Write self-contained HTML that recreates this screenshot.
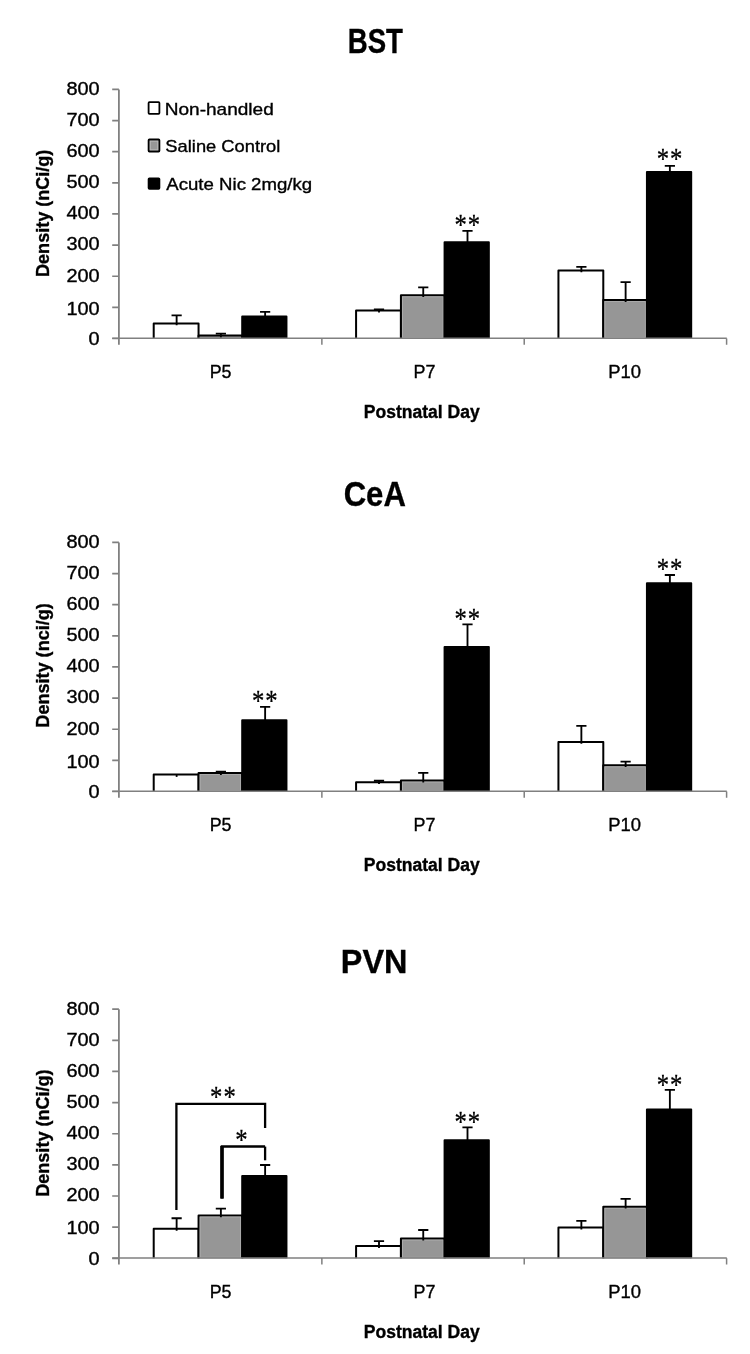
<!DOCTYPE html>
<html><head><meta charset="utf-8"><title>Density charts</title>
<style>
html,body{margin:0;padding:0;background:#fff;}
body{width:750px;height:1354px;overflow:hidden;}
svg{display:block;font-family:"Liberation Sans", Arial, sans-serif;}
text{stroke:#000;stroke-width:0.35px;}
text.b{stroke-width:0.2px;}
text.s{stroke-width:0.3px;}
</style></head>
<body>
<svg width="750" height="1354" viewBox="0 0 750 1354">
<rect width="750" height="1354" fill="#fff"/>
<text x="347.77" y="52.60" font-size="34.20" font-weight="bold" textLength="55.21" lengthAdjust="spacingAndGlyphs">BST</text>
<text x="88.63" y="345.40" font-size="17.71" textLength="11.08" lengthAdjust="spacingAndGlyphs">0</text>
<text x="66.46" y="314.50" font-size="17.71" textLength="33.25" lengthAdjust="spacingAndGlyphs">100</text>
<text x="66.46" y="281.50" font-size="17.71" textLength="33.25" lengthAdjust="spacingAndGlyphs">200</text>
<text x="66.46" y="250.30" font-size="17.71" textLength="33.25" lengthAdjust="spacingAndGlyphs">300</text>
<text x="66.46" y="219.20" font-size="17.71" textLength="33.25" lengthAdjust="spacingAndGlyphs">400</text>
<text x="66.46" y="188.20" font-size="17.71" textLength="33.25" lengthAdjust="spacingAndGlyphs">500</text>
<text x="66.46" y="157.20" font-size="17.71" textLength="33.25" lengthAdjust="spacingAndGlyphs">600</text>
<text x="66.46" y="126.00" font-size="17.71" textLength="33.25" lengthAdjust="spacingAndGlyphs">700</text>
<text x="66.46" y="94.80" font-size="17.71" textLength="33.25" lengthAdjust="spacingAndGlyphs">800</text>
<text transform="translate(48.80,0) rotate(-90)" x="-276.96" y="0" font-size="19.28" font-weight="bold" textLength="127.29" lengthAdjust="spacingAndGlyphs">Density (nCi/g)</text>
<text x="209.67" y="377.90" font-size="17.83" font-weight="normal" textLength="21.80" lengthAdjust="spacingAndGlyphs">P5</text>
<text x="413.57" y="377.90" font-size="17.83" font-weight="normal" textLength="21.88" lengthAdjust="spacingAndGlyphs">P7</text>
<text x="608.23" y="377.90" font-size="17.83" font-weight="normal" textLength="32.80" lengthAdjust="spacingAndGlyphs">P10</text>
<text x="363.77" y="418.40" font-size="17.68" font-weight="bold" textLength="115.88" lengthAdjust="spacingAndGlyphs">Postnatal Day</text>
<rect x="153.71" y="323.40" width="44.85" height="15.10" fill="#ffffff"/>
<path d="M153.71,338.50V323.40H198.56V338.50" fill="none" stroke="#000" stroke-width="2" stroke-linejoin="round"/>
<rect x="198.56" y="335.60" width="43.65" height="2.90" fill="#969696"/>
<path d="M198.56,338.50V335.60H242.21V338.50" fill="none" stroke="#000" stroke-width="2" stroke-linejoin="round"/>
<rect x="242.21" y="316.50" width="44.25" height="22.00" fill="#000000"/>
<path d="M242.21,338.50V316.50H286.46V338.50" fill="none" stroke="#000" stroke-width="2" stroke-linejoin="round"/>
<rect x="356.08" y="310.60" width="44.85" height="27.90" fill="#ffffff"/>
<path d="M356.08,338.50V310.60H400.93V338.50" fill="none" stroke="#000" stroke-width="2" stroke-linejoin="round"/>
<rect x="400.93" y="295.20" width="43.65" height="43.30" fill="#969696"/>
<path d="M400.93,338.50V295.20H444.58V338.50" fill="none" stroke="#000" stroke-width="2" stroke-linejoin="round"/>
<rect x="402.53" y="296.80" width="40.45" height="40.70" fill="none" stroke="#adadad" stroke-width="0.9"/>
<rect x="444.58" y="242.20" width="44.25" height="96.30" fill="#000000"/>
<path d="M444.58,338.50V242.20H488.83V338.50" fill="none" stroke="#000" stroke-width="2" stroke-linejoin="round"/>
<rect x="558.44" y="270.40" width="44.85" height="68.10" fill="#ffffff"/>
<path d="M558.44,338.50V270.40H603.29V338.50" fill="none" stroke="#000" stroke-width="2" stroke-linejoin="round"/>
<rect x="603.29" y="300.00" width="43.65" height="38.50" fill="#969696"/>
<path d="M603.29,338.50V300.00H646.94V338.50" fill="none" stroke="#000" stroke-width="2" stroke-linejoin="round"/>
<rect x="604.89" y="301.60" width="40.45" height="35.90" fill="none" stroke="#adadad" stroke-width="0.9"/>
<rect x="646.94" y="172.00" width="44.25" height="166.50" fill="#000000"/>
<path d="M646.94,338.50V172.00H691.19V338.50" fill="none" stroke="#000" stroke-width="2" stroke-linejoin="round"/>
<path d="M176.63,325.30V315.40M171.53,315.40H181.73" stroke="#000" stroke-width="1.85" fill="none"/>
<path d="M220.88,337.50V333.60M215.78,333.60H225.98" stroke="#000" stroke-width="1.85" fill="none"/>
<path d="M265.13,316.50V311.90M260.03,311.90H270.23" stroke="#000" stroke-width="1.85" fill="none"/>
<path d="M379.00,312.50V309.30M373.90,309.30H384.10" stroke="#000" stroke-width="1.85" fill="none"/>
<path d="M423.25,297.10V287.30M418.15,287.30H428.35" stroke="#000" stroke-width="1.85" fill="none"/>
<path d="M467.50,242.20V230.90M462.40,230.90H472.60" stroke="#000" stroke-width="1.85" fill="none"/>
<path d="M581.37,272.30V266.90M576.27,266.90H586.47" stroke="#000" stroke-width="1.85" fill="none"/>
<path d="M625.62,301.90V282.10M620.52,282.10H630.72" stroke="#000" stroke-width="1.85" fill="none"/>
<path d="M669.87,172.00V165.90M664.77,165.90H674.97" stroke="#000" stroke-width="1.85" fill="none"/>
<path d="M118.9,89.40V344.80" stroke="#808080" stroke-width="1.8" fill="none"/>
<path d="M112.2,338.50H118.9M112.2,307.36H118.9M112.2,276.23H118.9M112.2,245.09H118.9M112.2,213.95H118.9M112.2,182.81H118.9M112.2,151.68H118.9M112.2,120.54H118.9M112.2,89.40H118.9" stroke="#808080" stroke-width="1.7" fill="none"/>
<path d="M112.2,338.30H726.80M321.87,338.50V344.80M524.23,338.50V344.80M726.60,338.50V344.80" stroke="#808080" stroke-width="1.5" fill="none" stroke-linejoin="round"/>
<text class="s" transform="translate(454.39,234.41) scale(0.85,1)" font-family='"Liberation Serif", "Times New Roman", serif' font-size="29.00" letter-spacing="1.15">**</text>
<text class="s" transform="translate(656.75,168.41) scale(0.85,1)" font-family='"Liberation Serif", "Times New Roman", serif' font-size="29.00" letter-spacing="1.15">**</text>
<rect x="148.6" y="102.10" width="10.8" height="11.80" fill="#ffffff" stroke="#000" stroke-width="1.8" rx="0.8"/>
<text x="164.78" y="114.60" font-size="16.81" font-weight="normal" textLength="108.99" lengthAdjust="spacingAndGlyphs">Non-handled</text>
<rect x="148.6" y="139.50" width="10.8" height="12.00" fill="#969696" stroke="#000" stroke-width="1.8" rx="0.8"/>
<rect x="150.3" y="141.20" width="7.4" height="8.60" fill="none" stroke="#b8b8b8" stroke-width="0.9"/>
<text x="165.39" y="152.20" font-size="16.81" font-weight="normal" textLength="114.94" lengthAdjust="spacingAndGlyphs">Saline Control</text>
<rect x="148.6" y="178.30" width="10.8" height="10.60" fill="#000000" stroke="#000" stroke-width="1.8" rx="0.8"/>
<text x="166.30" y="189.60" font-size="16.96" font-weight="normal" textLength="145.84" lengthAdjust="spacingAndGlyphs">Acute Nic 2mg/kg</text>
<text x="343.66" y="506.00" font-size="34.35" font-weight="bold" textLength="62.20" lengthAdjust="spacingAndGlyphs">CeA</text>
<text x="88.63" y="798.40" font-size="17.71" textLength="11.08" lengthAdjust="spacingAndGlyphs">0</text>
<text x="66.46" y="767.50" font-size="17.71" textLength="33.25" lengthAdjust="spacingAndGlyphs">100</text>
<text x="66.46" y="734.50" font-size="17.71" textLength="33.25" lengthAdjust="spacingAndGlyphs">200</text>
<text x="66.46" y="703.30" font-size="17.71" textLength="33.25" lengthAdjust="spacingAndGlyphs">300</text>
<text x="66.46" y="672.20" font-size="17.71" textLength="33.25" lengthAdjust="spacingAndGlyphs">400</text>
<text x="66.46" y="641.20" font-size="17.71" textLength="33.25" lengthAdjust="spacingAndGlyphs">500</text>
<text x="66.46" y="610.20" font-size="17.71" textLength="33.25" lengthAdjust="spacingAndGlyphs">600</text>
<text x="66.46" y="579.00" font-size="17.71" textLength="33.25" lengthAdjust="spacingAndGlyphs">700</text>
<text x="66.46" y="547.80" font-size="17.71" textLength="33.25" lengthAdjust="spacingAndGlyphs">800</text>
<text transform="translate(48.80,0) rotate(-90)" x="-727.66" y="0" font-size="19.28" font-weight="bold" textLength="124.46" lengthAdjust="spacingAndGlyphs">Density (nci/g)</text>
<text x="209.67" y="830.90" font-size="17.83" font-weight="normal" textLength="21.80" lengthAdjust="spacingAndGlyphs">P5</text>
<text x="413.57" y="830.90" font-size="17.83" font-weight="normal" textLength="21.88" lengthAdjust="spacingAndGlyphs">P7</text>
<text x="608.23" y="830.90" font-size="17.83" font-weight="normal" textLength="32.80" lengthAdjust="spacingAndGlyphs">P10</text>
<text x="363.77" y="871.40" font-size="17.68" font-weight="bold" textLength="115.88" lengthAdjust="spacingAndGlyphs">Postnatal Day</text>
<rect x="153.71" y="774.40" width="44.85" height="17.10" fill="#ffffff"/>
<path d="M153.71,791.50V774.40H198.56V791.50" fill="none" stroke="#000" stroke-width="2" stroke-linejoin="round"/>
<rect x="198.56" y="773.00" width="43.65" height="18.50" fill="#969696"/>
<path d="M198.56,791.50V773.00H242.21V791.50" fill="none" stroke="#000" stroke-width="2" stroke-linejoin="round"/>
<rect x="200.16" y="774.60" width="40.45" height="15.90" fill="none" stroke="#adadad" stroke-width="0.9"/>
<rect x="242.21" y="720.30" width="44.25" height="71.20" fill="#000000"/>
<path d="M242.21,791.50V720.30H286.46V791.50" fill="none" stroke="#000" stroke-width="2" stroke-linejoin="round"/>
<rect x="356.08" y="782.20" width="44.85" height="9.30" fill="#ffffff"/>
<path d="M356.08,791.50V782.20H400.93V791.50" fill="none" stroke="#000" stroke-width="2" stroke-linejoin="round"/>
<rect x="400.93" y="780.50" width="43.65" height="11.00" fill="#969696"/>
<path d="M400.93,791.50V780.50H444.58V791.50" fill="none" stroke="#000" stroke-width="2" stroke-linejoin="round"/>
<rect x="402.53" y="782.10" width="40.45" height="8.40" fill="none" stroke="#adadad" stroke-width="0.9"/>
<rect x="444.58" y="647.00" width="44.25" height="144.50" fill="#000000"/>
<path d="M444.58,791.50V647.00H488.83V791.50" fill="none" stroke="#000" stroke-width="2" stroke-linejoin="round"/>
<rect x="558.44" y="741.90" width="44.85" height="49.60" fill="#ffffff"/>
<path d="M558.44,791.50V741.90H603.29V791.50" fill="none" stroke="#000" stroke-width="2" stroke-linejoin="round"/>
<rect x="603.29" y="765.20" width="43.65" height="26.30" fill="#969696"/>
<path d="M603.29,791.50V765.20H646.94V791.50" fill="none" stroke="#000" stroke-width="2" stroke-linejoin="round"/>
<rect x="604.89" y="766.80" width="40.45" height="23.70" fill="none" stroke="#adadad" stroke-width="0.9"/>
<rect x="646.94" y="583.30" width="44.25" height="208.20" fill="#000000"/>
<path d="M646.94,791.50V583.30H691.19V791.50" fill="none" stroke="#000" stroke-width="2" stroke-linejoin="round"/>
<path d="M176.63,774.40V776.90" stroke="#000" stroke-width="1.8" fill="none"/>
<path d="M220.88,774.90V771.60M215.78,771.60H225.98" stroke="#000" stroke-width="1.85" fill="none"/>
<path d="M265.13,720.30V706.90M260.03,706.90H270.23" stroke="#000" stroke-width="1.85" fill="none"/>
<path d="M379.00,784.10V780.70M373.90,780.70H384.10" stroke="#000" stroke-width="1.85" fill="none"/>
<path d="M423.25,782.40V772.80M418.15,772.80H428.35" stroke="#000" stroke-width="1.85" fill="none"/>
<path d="M467.50,647.00V624.40M462.40,624.40H472.60" stroke="#000" stroke-width="1.85" fill="none"/>
<path d="M581.37,743.80V725.80M576.27,725.80H586.47" stroke="#000" stroke-width="1.85" fill="none"/>
<path d="M625.62,767.10V761.60M620.52,761.60H630.72" stroke="#000" stroke-width="1.85" fill="none"/>
<path d="M669.87,583.30V575.00M664.77,575.00H674.97" stroke="#000" stroke-width="1.85" fill="none"/>
<path d="M118.9,542.40V797.80" stroke="#808080" stroke-width="1.8" fill="none"/>
<path d="M112.2,791.50H118.9M112.2,760.36H118.9M112.2,729.23H118.9M112.2,698.09H118.9M112.2,666.95H118.9M112.2,635.81H118.9M112.2,604.67H118.9M112.2,573.54H118.9M112.2,542.40H118.9" stroke="#808080" stroke-width="1.7" fill="none"/>
<path d="M112.2,791.30H726.80M321.87,791.50V797.80M524.23,791.50V797.80M726.60,791.50V797.80" stroke="#808080" stroke-width="1.5" fill="none" stroke-linejoin="round"/>
<text class="s" transform="translate(252.02,710.01) scale(0.85,1)" font-family='"Liberation Serif", "Times New Roman", serif' font-size="29.00" letter-spacing="1.15">**</text>
<text class="s" transform="translate(454.39,628.11) scale(0.85,1)" font-family='"Liberation Serif", "Times New Roman", serif' font-size="29.00" letter-spacing="1.15">**</text>
<text class="s" transform="translate(656.75,578.41) scale(0.85,1)" font-family='"Liberation Serif", "Times New Roman", serif' font-size="29.00" letter-spacing="1.15">**</text>
<text x="340.83" y="972.70" font-size="33.91" font-weight="bold" textLength="66.61" lengthAdjust="spacingAndGlyphs">PVN</text>
<text x="88.63" y="1265.20" font-size="17.71" textLength="11.08" lengthAdjust="spacingAndGlyphs">0</text>
<text x="66.46" y="1234.30" font-size="17.71" textLength="33.25" lengthAdjust="spacingAndGlyphs">100</text>
<text x="66.46" y="1201.30" font-size="17.71" textLength="33.25" lengthAdjust="spacingAndGlyphs">200</text>
<text x="66.46" y="1170.10" font-size="17.71" textLength="33.25" lengthAdjust="spacingAndGlyphs">300</text>
<text x="66.46" y="1139.00" font-size="17.71" textLength="33.25" lengthAdjust="spacingAndGlyphs">400</text>
<text x="66.46" y="1108.00" font-size="17.71" textLength="33.25" lengthAdjust="spacingAndGlyphs">500</text>
<text x="66.46" y="1077.00" font-size="17.71" textLength="33.25" lengthAdjust="spacingAndGlyphs">600</text>
<text x="66.46" y="1045.80" font-size="17.71" textLength="33.25" lengthAdjust="spacingAndGlyphs">700</text>
<text x="66.46" y="1014.60" font-size="17.71" textLength="33.25" lengthAdjust="spacingAndGlyphs">800</text>
<text transform="translate(48.80,0) rotate(-90)" x="-1196.76" y="0" font-size="19.28" font-weight="bold" textLength="127.29" lengthAdjust="spacingAndGlyphs">Density (nCi/g)</text>
<text x="209.67" y="1297.70" font-size="17.83" font-weight="normal" textLength="21.80" lengthAdjust="spacingAndGlyphs">P5</text>
<text x="413.57" y="1297.70" font-size="17.83" font-weight="normal" textLength="21.88" lengthAdjust="spacingAndGlyphs">P7</text>
<text x="608.23" y="1297.70" font-size="17.83" font-weight="normal" textLength="32.80" lengthAdjust="spacingAndGlyphs">P10</text>
<text x="363.77" y="1338.20" font-size="17.68" font-weight="bold" textLength="115.88" lengthAdjust="spacingAndGlyphs">Postnatal Day</text>
<rect x="153.71" y="1228.80" width="44.85" height="29.50" fill="#ffffff"/>
<path d="M153.71,1258.30V1228.80H198.56V1258.30" fill="none" stroke="#000" stroke-width="2" stroke-linejoin="round"/>
<rect x="198.56" y="1215.40" width="43.65" height="42.90" fill="#969696"/>
<path d="M198.56,1258.30V1215.40H242.21V1258.30" fill="none" stroke="#000" stroke-width="2" stroke-linejoin="round"/>
<rect x="200.16" y="1217.00" width="40.45" height="40.30" fill="none" stroke="#adadad" stroke-width="0.9"/>
<rect x="242.21" y="1176.00" width="44.25" height="82.30" fill="#000000"/>
<path d="M242.21,1258.30V1176.00H286.46V1258.30" fill="none" stroke="#000" stroke-width="2" stroke-linejoin="round"/>
<rect x="356.08" y="1246.00" width="44.85" height="12.30" fill="#ffffff"/>
<path d="M356.08,1258.30V1246.00H400.93V1258.30" fill="none" stroke="#000" stroke-width="2" stroke-linejoin="round"/>
<rect x="400.93" y="1238.50" width="43.65" height="19.80" fill="#969696"/>
<path d="M400.93,1258.30V1238.50H444.58V1258.30" fill="none" stroke="#000" stroke-width="2" stroke-linejoin="round"/>
<rect x="402.53" y="1240.10" width="40.45" height="17.20" fill="none" stroke="#adadad" stroke-width="0.9"/>
<rect x="444.58" y="1140.30" width="44.25" height="118.00" fill="#000000"/>
<path d="M444.58,1258.30V1140.30H488.83V1258.30" fill="none" stroke="#000" stroke-width="2" stroke-linejoin="round"/>
<rect x="558.44" y="1227.50" width="44.85" height="30.80" fill="#ffffff"/>
<path d="M558.44,1258.30V1227.50H603.29V1258.30" fill="none" stroke="#000" stroke-width="2" stroke-linejoin="round"/>
<rect x="603.29" y="1206.70" width="43.65" height="51.60" fill="#969696"/>
<path d="M603.29,1258.30V1206.70H646.94V1258.30" fill="none" stroke="#000" stroke-width="2" stroke-linejoin="round"/>
<rect x="604.89" y="1208.30" width="40.45" height="49.00" fill="none" stroke="#adadad" stroke-width="0.9"/>
<rect x="646.94" y="1109.50" width="44.25" height="148.80" fill="#000000"/>
<path d="M646.94,1258.30V1109.50H691.19V1258.30" fill="none" stroke="#000" stroke-width="2" stroke-linejoin="round"/>
<path d="M176.63,1230.70V1218.20M171.53,1218.20H181.73" stroke="#000" stroke-width="1.85" fill="none"/>
<path d="M220.88,1217.30V1208.60M215.78,1208.60H225.98" stroke="#000" stroke-width="1.85" fill="none"/>
<path d="M265.13,1176.00V1165.00M260.03,1165.00H270.23" stroke="#000" stroke-width="1.85" fill="none"/>
<path d="M379.00,1247.90V1241.10M373.90,1241.10H384.10" stroke="#000" stroke-width="1.85" fill="none"/>
<path d="M423.25,1240.40V1230.00M418.15,1230.00H428.35" stroke="#000" stroke-width="1.85" fill="none"/>
<path d="M467.50,1140.30V1127.30M462.40,1127.30H472.60" stroke="#000" stroke-width="1.85" fill="none"/>
<path d="M581.37,1229.40V1220.90M576.27,1220.90H586.47" stroke="#000" stroke-width="1.85" fill="none"/>
<path d="M625.62,1208.60V1198.90M620.52,1198.90H630.72" stroke="#000" stroke-width="1.85" fill="none"/>
<path d="M669.87,1109.50V1089.90M664.77,1089.90H674.97" stroke="#000" stroke-width="1.85" fill="none"/>
<path d="M118.9,1009.20V1264.60" stroke="#808080" stroke-width="1.8" fill="none"/>
<path d="M112.2,1258.30H118.9M112.2,1227.16H118.9M112.2,1196.02H118.9M112.2,1164.89H118.9M112.2,1133.75H118.9M112.2,1102.61H118.9M112.2,1071.47H118.9M112.2,1040.34H118.9M112.2,1009.20H118.9" stroke="#808080" stroke-width="1.7" fill="none"/>
<path d="M112.2,1258.10H726.80M321.87,1258.30V1264.60M524.23,1258.30V1264.60M726.60,1258.30V1264.60" stroke="#808080" stroke-width="1.5" fill="none" stroke-linejoin="round"/>
<text class="s" transform="translate(454.39,1130.81) scale(0.85,1)" font-family='"Liberation Serif", "Times New Roman", serif' font-size="29.00" letter-spacing="1.15">**</text>
<text class="s" transform="translate(656.75,1093.51) scale(0.85,1)" font-family='"Liberation Serif", "Times New Roman", serif' font-size="29.00" letter-spacing="1.15">**</text>
<path d="M176.4,1210V1103.8H265.1V1128.1" stroke="#000" stroke-width="2.3" fill="none"/>
<path d="M265.1,1146.6H222V1198.6" stroke="#000" stroke-width="2.5" fill="none"/>
<path d="M222,1146V1198.6" stroke="#000" stroke-width="3.6" fill="none"/>
<path d="M265.1,1146.6V1160.3" stroke="#000" stroke-width="2.3" fill="none"/>
<text class="s" transform="translate(210.09,1105.71) scale(0.85,1)" font-family='"Liberation Serif", "Times New Roman", serif' font-size="29.00" letter-spacing="1.15">**</text>
<text class="s" transform="translate(235.34,1149.01) scale(0.85,1)" font-family='"Liberation Serif", "Times New Roman", serif' font-size="29.00" letter-spacing="1.15">*</text>
</svg>
</body></html>
